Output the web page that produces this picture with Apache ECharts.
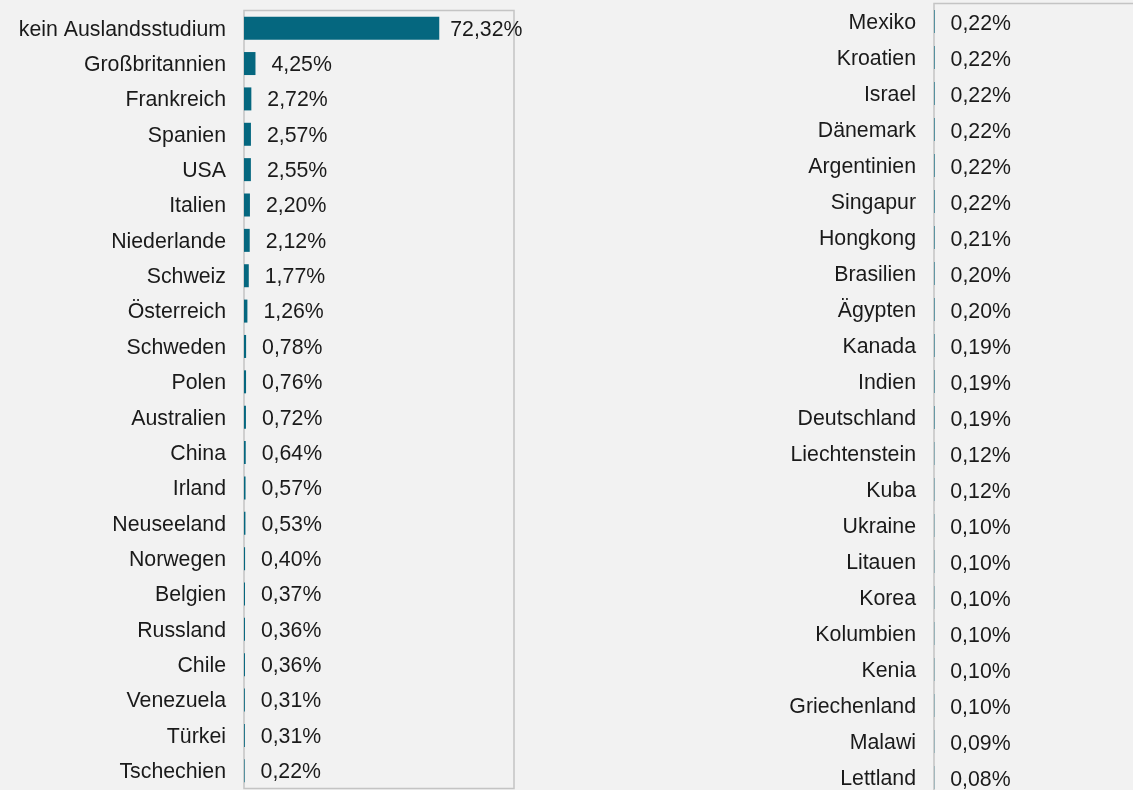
<!DOCTYPE html>
<html><head><meta charset="utf-8">
<script src="https://cdn.jsdelivr.net/npm/echarts@6/dist/echarts.min.js"></script>
<style>html,body{margin:0;padding:0;background:#f2f2f2;}#c{width:1133px;height:790px;}</style>
</head><body><div id="c"></div>
<script>
const leftCategories = ["kein Auslandsstudium","Großbritannien","Frankreich","Spanien","USA","Italien","Niederlande","Schweiz","Österreich","Schweden","Polen","Australien","China","Irland","Neuseeland","Norwegen","Belgien","Russland","Chile","Venezuela","Türkei","Tschechien"];
const leftValues = [72.32,4.25,2.72,2.57,2.55,2.20,2.12,1.77,1.26,0.78,0.76,0.72,0.64,0.57,0.53,0.40,0.37,0.36,0.36,0.31,0.31,0.22];
const rightCategories = ["Mexiko","Kroatien","Israel","Dänemark","Argentinien","Singapur","Hongkong","Brasilien","Ägypten","Kanada","Indien","Deutschland","Liechtenstein","Kuba","Ukraine","Litauen","Korea","Kolumbien","Kenia","Griechenland","Malawi","Lettland"];
const rightValues = [0.22,0.22,0.22,0.22,0.22,0.22,0.21,0.20,0.20,0.19,0.19,0.19,0.12,0.12,0.10,0.10,0.10,0.10,0.10,0.10,0.09,0.08];

const FONT = '"Liberation Sans", Arial, sans-serif';
const BAR = '#05677f';
const fmt = p => p.value.toFixed(2).replace('.', ',') + '%';

function axisY(cats, gi) {
  return {
    type: 'category', gridIndex: gi, data: cats, inverse: true,
    axisLine: {show: false}, axisTick: {show: false},
    axisLabel: {
      color: '#1a1a1a', fontSize: 21.3, fontFamily: FONT, margin: 18,
      formatter: v => '{a|' + v + '}',
      rich: {a: {color: '#1a1a1a', fontSize: 21.3, fontFamily: FONT, padding: [gi === 0 ? 3 : 4, 0, 0, 0]}}
    }
  };
}
function axisX(gi) {
  return {
    type: 'value', gridIndex: gi, min: 0, max: 100,
    show: false, splitLine: {show: false}
  };
}
function series(vals, gi) {
  return {
    type: 'bar', xAxisIndex: gi, yAxisIndex: gi,
    data: vals.map((v, i) => (gi === 0 && i === 0) ? {value: v, label: {distance: 11}} : v),
    barWidth: 23,
    itemStyle: {color: BAR},
    label: {show: true, position: 'right', distance: 16, formatter: fmt,
      color: '#1a1a1a', fontSize: 21.3, fontFamily: FONT, offset: [0, gi === 0 ? 1.5 : 2.5]},
    silent: true, animation: false
  };
}

const chart = echarts.init(document.getElementById('c'), null, {renderer: 'canvas'});
chart.setOption({
  backgroundColor: '#f2f2f2',
  animation: false,
  grid: [
    {left: 244, top: 10.5, width: 270, height: 778, outerBoundsMode: 'none', containLabel: false, show: true, borderColor: '#c4c4c4', borderWidth: 1.5, backgroundColor: 'transparent'},
    {left: 934, top: 3.5, width: 270, height: 792, outerBoundsMode: 'none', containLabel: false, show: true, borderColor: '#c4c4c4', borderWidth: 1.5, backgroundColor: 'transparent'}
  ],
  xAxis: [axisX(0), axisX(1)],
  yAxis: [axisY(leftCategories, 0), axisY(rightCategories, 1)],
  series: [series(leftValues, 0), series(rightValues, 1)]
});
</script></body></html>
